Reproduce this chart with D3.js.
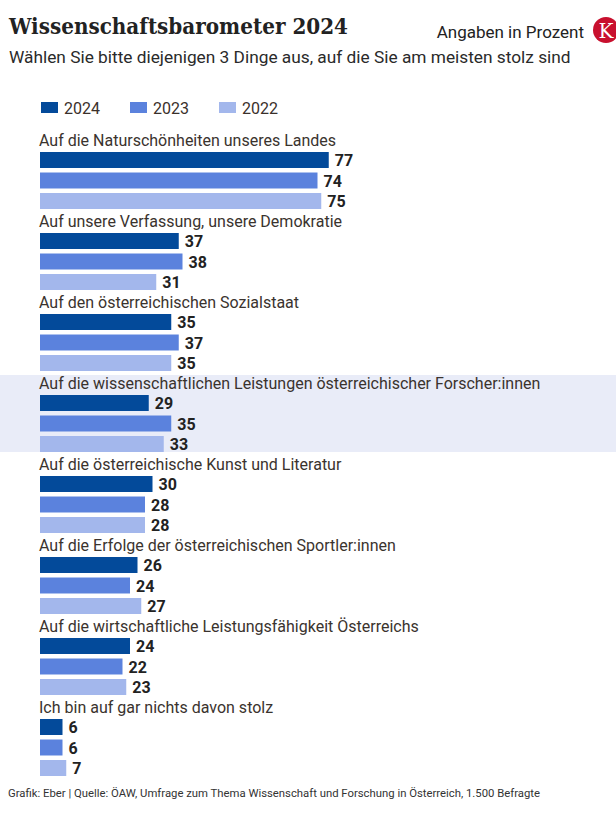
<!DOCTYPE html>
<html><head><meta charset="utf-8">
<script src="https://cdn.jsdelivr.net/npm/d3@7"></script>
<style>body{margin:0;background:#fff}svg{display:block}</style>
</head><body>
<script>
const categories = [
  "Auf die Naturschönheiten unseres Landes",
  "Auf unsere Verfassung, unsere Demokratie",
  "Auf den österreichischen Sozialstaat",
  "Auf die wissenschaftlichen Leistungen österreichischer Forscher:innen",
  "Auf die österreichische Kunst und Literatur",
  "Auf die Erfolge der österreichischen Sportler:innen",
  "Auf die wirtschaftliche Leistungsfähigkeit Österreichs",
  "Ich bin auf gar nichts davon stolz"
];
const years = ["2024", "2023", "2022"];
const values2024 = [77, 37, 35, 29, 30, 26, 24, 6];
const values2023 = [74, 38, 37, 35, 28, 24, 22, 6];
const values2022 = [75, 31, 35, 33, 28, 27, 23, 7];
const highlighted = "Auf die wissenschaftlichen Leistungen österreichischer Forscher:innen";
const colors = ["#034a9a", "#5b82dd", "#a3b7ec"];

const series = [values2024, values2023, values2022];
const W = 616, H = 816;
const svg = d3.select("body").append("svg").attr("width", W).attr("height", H);

const x = d3.scaleLinear().domain([0, 100]).range([40, 415]);
const y = d3.scaleBand().domain(categories).range([130, 130 + 81 * categories.length]);
const yi = d3.scaleBand().domain(years).range([22, 79]).paddingInner(0.22).paddingOuter(0);

// highlight band
svg.append("rect").attr("x", 0).attr("width", W)
  .attr("y", y(highlighted) + 2).attr("height", 77).attr("fill", "#e9ecf8");

// title
svg.append("text").attr("x", 9).attr("y", 34)
  .attr("font-family", "'Roboto Slab','DejaVu Serif',serif").attr("font-weight", "bold")
  .attr("font-size", 22).attr("fill", "#222").attr("textLength", 339).attr("lengthAdjust", "spacingAndGlyphs")
  .text("Wissenschaftsbarometer 2024");
svg.append("text").attr("x", 584).attr("y", 38).attr("text-anchor", "end")
  .attr("font-family", "Roboto, sans-serif").attr("font-size", 17).attr("fill", "#222")
  .text("Angaben in Prozent");
svg.append("circle").attr("cx", 606).attr("cy", 30).attr("r", 13).attr("fill", "#c8102e");
svg.append("text").attr("x", 606).attr("y", 38).attr("text-anchor", "middle")
  .attr("font-family", "'DejaVu Serif',serif").attr("font-size", 20).attr("fill", "#fff").text("K");
svg.append("text").attr("x", 9).attr("y", 63)
  .attr("font-family", "Roboto, sans-serif").attr("font-size", 17.3).attr("fill", "#2a2a2a")
  .text("Wählen Sie bitte diejenigen 3 Dinge aus, auf die Sie am meisten stolz sind");

// legend
const legX = [41, 130, 219];
const leg = svg.append("g").selectAll("g").data(years).join("g")
  .attr("transform", (d, i) => `translate(${legX[i]},102)`);
leg.append("rect").attr("width", 17).attr("height", 11).attr("fill", (d, i) => colors[i]);
leg.append("text").attr("x", 23).attr("y", 11.5)
  .attr("font-family", "Roboto, sans-serif").attr("font-size", 16).attr("fill", "#3a302a").text(d => d);

// groups
const g = svg.append("g").selectAll("g").data(categories).join("g")
  .attr("transform", d => `translate(0,${y(d)})`);
g.append("text").attr("x", 39).attr("y", 16)
  .attr("font-family", "Roboto, sans-serif").attr("font-size", 16).attr("fill", "#3a332e")
  .text(d => d);
years.forEach((yr, k) => {
  g.append("rect").attr("x", x(0)).attr("y", yi(yr))
    .attr("width", (d, i) => x(series[k][i]) - x(0)).attr("height", yi.bandwidth())
    .attr("fill", colors[k]);
  g.append("text").attr("x", (d, i) => x(series[k][i]) + 6).attr("y", yi(yr) + yi.bandwidth() / 2 + 6)
    .attr("font-family", "Roboto, sans-serif").attr("font-weight", "bold").attr("font-size", 16)
    .attr("fill", "#222").text((d, i) => series[k][i]);
});

svg.append("text").attr("x", 8).attr("y", 797)
  .attr("font-family", "Roboto, sans-serif").attr("font-size", 11.8).attr("fill", "#333")
  .attr("textLength", 532).attr("lengthAdjust", "spacingAndGlyphs")
  .text("Grafik: Eber | Quelle: ÖAW, Umfrage zum Thema Wissenschaft und Forschung in Österreich, 1.500 Befragte");
</script>
</body></html>
